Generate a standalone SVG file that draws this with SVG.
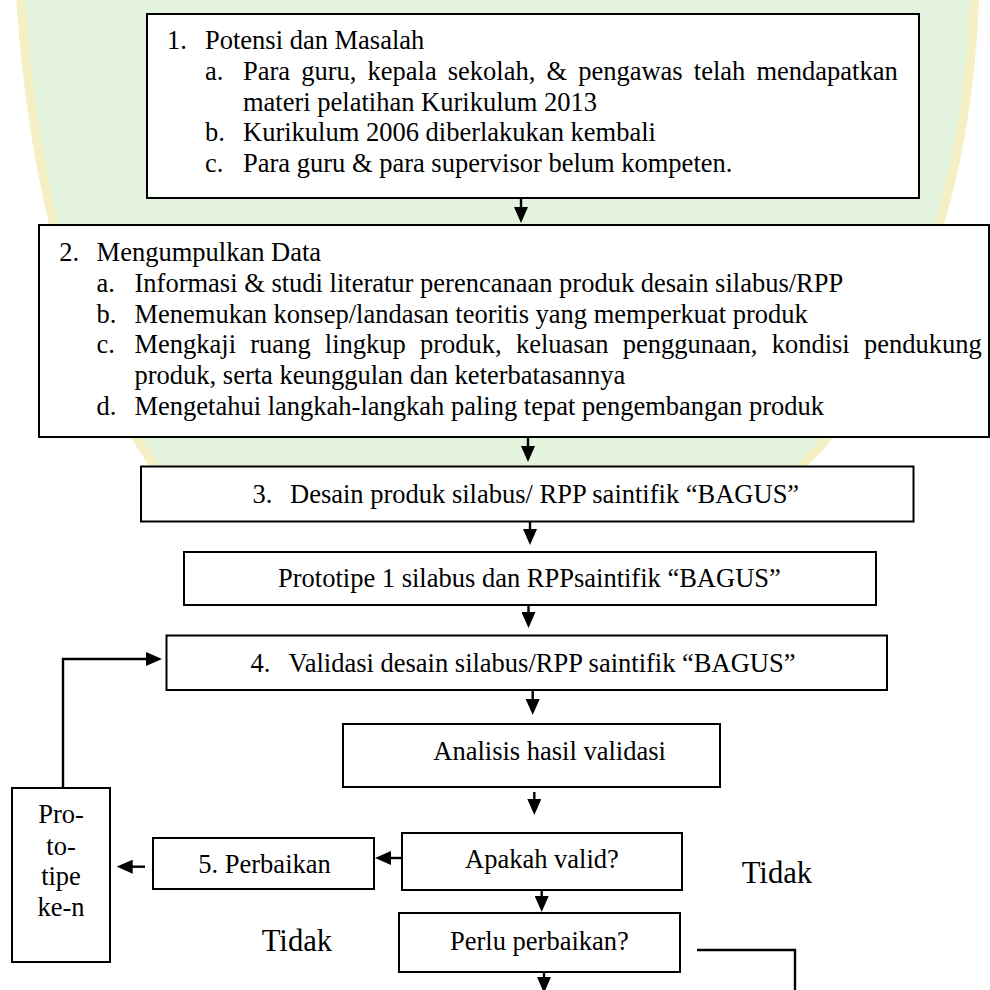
<svg xmlns="http://www.w3.org/2000/svg" width="990" height="990" viewBox="0 0 990 990">
<style>
  .box { fill: #fff; stroke: #000; stroke-width: 2; }
  .t { font-family: "Liberation Serif", "Times New Roman", serif; font-size: 26.5px; fill: #000; }
  .big { font-family: "Liberation Serif", "Times New Roman", serif; font-size: 30.7px; fill: #000; }
  .con { fill: none; stroke: #000; stroke-width: 2.4; }
  .wg { fill: #dcefd4; stroke: #f1ecb0; stroke-width: 9; }
</style>
<defs>
  <marker id="ah" markerUnits="userSpaceOnUse" markerWidth="16" markerHeight="14" refX="12" refY="7" orient="auto" viewBox="0 0 16 14">
    <path d="M0,0 L16,7 L0,14 z" fill="#000"/>
  </marker>
</defs>
<rect width="990" height="990" fill="#fff"/>

<g id="watermark" opacity="0.75">
  <path class="wg" d="M20,-10 L975,-10 Q965,300 798,470 L157,470 Q40,300 20,-10 Z"/>
</g>

<g id="node-1">
  <rect class="box" x="147" y="14" width="772" height="184"/>
  <text class="t" x="167" y="49">1.</text>
  <text class="t" x="205" y="49">Potensi dan Masalah</text>
  <text class="t" x="205" y="79.8">a.</text>
  <text class="t" y="79.8"><tspan x="243">Para</tspan><tspan x="301.2">guru,</tspan><tspan x="367.5">kepala</tspan><tspan x="447.8">sekolah,</tspan><tspan x="546.5">&amp;</tspan><tspan x="578.2">pengawas</tspan><tspan x="693.8">telah</tspan><tspan x="756.4">mendapatkan</tspan></text>
  <text class="t" x="243" y="110.6">materi pelatihan Kurikulum 2013</text>
  <text class="t" x="205" y="141.4">b.</text>
  <text class="t" x="243" y="141.4">Kurikulum 2006 diberlakukan kembali</text>
  <text class="t" x="205" y="172.2">c.</text>
  <text class="t" x="243" y="172.2">Para guru &amp; para supervisor belum kompeten.</text>
</g>

<g id="node-2">
  <rect class="box" x="39" y="225" width="950" height="212"/>
  <text class="t" x="59.3" y="261">2.</text>
  <text class="t" x="96.6" y="261">Mengumpulkan Data</text>
  <text class="t" x="96.6" y="291.7">a.</text>
  <text class="t" x="134.5" y="291.7">Informasi &amp; studi literatur perencanaan produk desain silabus/RPP</text>
  <text class="t" x="96.6" y="322.5">b.</text>
  <text class="t" x="134.5" y="322.5">Menemukan konsep/landasan teoritis yang memperkuat produk</text>
  <text class="t" x="96.6" y="353.3">c.</text>
  <text class="t" y="353.3"><tspan x="134.5">Mengkaji</tspan><tspan x="250.3">ruang</tspan><tspan x="324.8">lingkup</tspan><tspan x="420">produk,</tspan><tspan x="515.9">keluasan</tspan><tspan x="622.8">penggunaan,</tspan><tspan x="771.7">kondisi</tspan><tspan x="863.9">pendukung</tspan></text>
  <text class="t" x="134.5" y="384.2">produk, serta keunggulan dan keterbatasannya</text>
  <text class="t" x="96.6" y="415">d.</text>
  <text class="t" x="134.5" y="415">Mengetahui langkah-langkah paling tepat pengembangan produk</text>
</g>

<g id="node-3">
  <rect class="box" x="141" y="466.5" width="772.5" height="55"/>
  <text class="t" x="252.5" y="503">3.</text>
  <text class="t" x="290" y="503">Desain produk silabus/ RPP saintifik “BAGUS”</text>
</g>

<g id="node-prototipe1">
  <rect class="box" x="184" y="552" width="692" height="53"/>
  <text class="t" x="278" y="587">Prototipe 1 silabus dan RPPsaintifik “BAGUS”</text>
</g>

<g id="node-4">
  <rect class="box" x="166.5" y="635.5" width="720.5" height="54.5"/>
  <text class="t" x="250.5" y="672">4.</text>
  <text class="t" x="288.5" y="672">Validasi desain silabus/RPP saintifik “BAGUS”</text>
</g>

<g id="node-analisis">
  <rect class="box" x="343" y="724" width="377" height="63"/>
  <text class="t" x="433.3" y="760">Analisis hasil validasi</text>
</g>

<g id="node-apakah">
  <rect class="box" x="402" y="833" width="280" height="57"/>
  <text class="t" x="465" y="868.3">Apakah valid?</text>
</g>

<g id="node-perbaikan">
  <rect class="box" x="153" y="838" width="221" height="51"/>
  <text class="t" x="198.3" y="873.3">5. Perbaikan</text>
</g>

<g id="node-prototipe-n">
  <rect class="box" x="12" y="788" width="98" height="174"/>
  <text class="t" x="61" y="823.3" text-anchor="middle">Pro-</text>
  <text class="t" x="61" y="854.5" text-anchor="middle">to-</text>
  <text class="t" x="61" y="885" text-anchor="middle">tipe</text>
  <text class="t" x="61" y="915.5" text-anchor="middle">ke-n</text>
</g>

<g id="node-perlu">
  <rect class="box" x="399" y="913" width="281" height="59"/>
  <text class="t" x="450" y="950">Perlu perbaikan?</text>
</g>

<g id="labels">
  <text class="big" x="741.7" y="882.7">Tidak</text>
  <text class="big" x="261.7" y="951">Tidak</text>
</g>

<g id="connectors">
  <line class="con" x1="521" y1="198" x2="521" y2="219" marker-end="url(#ah)"/>
  <line class="con" x1="528" y1="437" x2="528" y2="458" marker-end="url(#ah)"/>
  <line class="con" x1="530" y1="522" x2="530" y2="541" marker-end="url(#ah)"/>
  <line class="con" x1="528.5" y1="605" x2="528.5" y2="624" marker-end="url(#ah)"/>
  <line class="con" x1="532.7" y1="691" x2="532.7" y2="711" marker-end="url(#ah)"/>
  <line class="con" x1="534.3" y1="792" x2="534.3" y2="811" marker-end="url(#ah)"/>
  <line class="con" x1="541.7" y1="890" x2="541.7" y2="908" marker-end="url(#ah)"/>
  <line class="con" x1="544" y1="972" x2="544" y2="989" marker-end="url(#ah)"/>
  <line class="con" x1="403" y1="858" x2="379" y2="858" marker-end="url(#ah)"/>
  <line class="con" x1="145" y1="866.7" x2="120.7" y2="866.7" marker-end="url(#ah)"/>
  <polyline class="con" points="63,788 63,659 158,659" marker-end="url(#ah)"/>
  <polyline class="con" points="697,950 795,950 795,990"/>
</g>
</svg>
